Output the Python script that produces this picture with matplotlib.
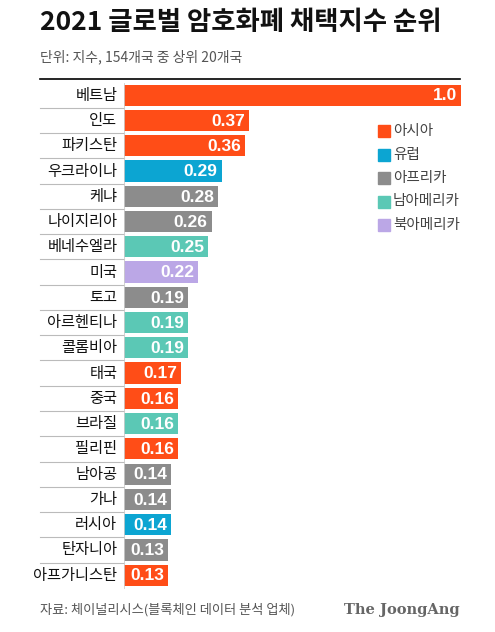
import matplotlib.pyplot as plt
from matplotlib.patches import Rectangle

plt.rcParams['font.family'] = ['Noto Sans CJK KR', 'DejaVu Sans']

countries = ['베트남', '인도', '파키스탄', '우크라이나', '케냐', '나이지리아', '베네수엘라', '미국',
             '토고', '아르헨티나', '콜롬비아', '태국', '중국', '브라질', '필리핀', '남아공',
             '가나', '러시아', '탄자니아', '아프가니스탄']
values = [1.0, 0.37, 0.36, 0.29, 0.28, 0.26, 0.25, 0.22, 0.19, 0.19, 0.19, 0.17, 0.16, 0.16,
          0.16, 0.14, 0.14, 0.14, 0.13, 0.13]
value_labels = ['1.0', '0.37', '0.36', '0.29', '0.28', '0.26', '0.25', '0.22', '0.19', '0.19',
                '0.19', '0.17', '0.16', '0.16', '0.16', '0.14', '0.14', '0.14', '0.13', '0.13']
regions = ['아시아', '아시아', '아시아', '유럽', '아프리카', '아프리카', '남아메리카', '북아메리카',
           '아프리카', '남아메리카', '남아메리카', '아시아', '아시아', '남아메리카', '아시아',
           '아프리카', '아프리카', '유럽', '아프리카', '아시아']
region_names = ['아시아', '유럽', '아프리카', '남아메리카', '북아메리카']
region_colors = {'아시아': '#FF4D17', '유럽': '#0CA5D2', '아프리카': '#8C8C8C',
                 '남아메리카': '#5BC8B5', '북아메리카': '#BBA7E6'}

W, H = 495, 632
fig = plt.figure(figsize=(W / 100, H / 100), dpi=100)

# axes placed in pixel coords
x0, x1 = 124, 461
top, pitch = 82.6, 25.26
n = len(countries)
bottom = top + pitch * n
ax = fig.add_axes([x0 / W, 1 - bottom / H, (x1 - x0) / W, (bottom - top) / H])
ax.set_xlim(0, 1.0)
ax.set_ylim(n - 0.5, -0.5)
ax.axis('off')

for i, (c, v, lab, r) in enumerate(zip(countries, values, value_labels, regions)):
    ax.barh(i, v, height=0.84, color=region_colors[r])
    ax.text(v - 0.012, i + 0.03, lab, ha='right', va='center', color='white',
            fontsize=12.5, fontweight='bold', family='Liberation Sans')
    ax.text(-0.02, i, c, ha='right', va='center', fontsize=11, color='#111111',
            fontweight='medium')

# separators between labels
for i in range(n - 1):
    ax.plot([-0.249, 0], [i + 0.5, i + 0.5], color='#BBBBBB', lw=0.8, clip_on=False)
ax.plot([0, 0], [-0.5, n - 0.5], color='#CCCCCC', lw=0.6, clip_on=False)

# title, subtitle and rule
fig.text(40 / W, 1 - 22 / H, '2021 글로벌 암호화폐 채택지수 순위', fontsize=19,
         fontweight='bold', va='center', ha='left', color='#111111')
fig.text(40 / W, 1 - 57 / H, '단위: 지수, 154개국 중 상위 20개국', fontsize=10,
         va='center', ha='left', color='#555555')
fig.add_artist(plt.Line2D([40 / W, 460 / W], [1 - 79 / H, 1 - 79 / H], color='black', lw=1.2))

# legend
for k, name in enumerate(region_names):
    y = 1 - (131 + k * 23.5) / H
    fig.add_artist(Rectangle((378 / W, y - 6 / H), 12 / W, 12 / H, color=region_colors[name],
                             transform=fig.transFigure))
    fig.text(393 / W, y, name, fontsize=10.5, va='center', ha='left', color='#444444')

# footer
fig.text(40 / W, 1 - 610 / H, '자료: 체이널리시스(블록체인 데이터 분석 업체)', fontsize=9.5,
         va='center', ha='left', color='#555555')
fig.text(460 / W, 1 - 610 / H, 'The JoongAng', fontsize=10.5, fontweight='bold',
         family='DejaVu Serif', va='center', ha='right', color='#666666')

fig.savefig('out.png', dpi=100)
